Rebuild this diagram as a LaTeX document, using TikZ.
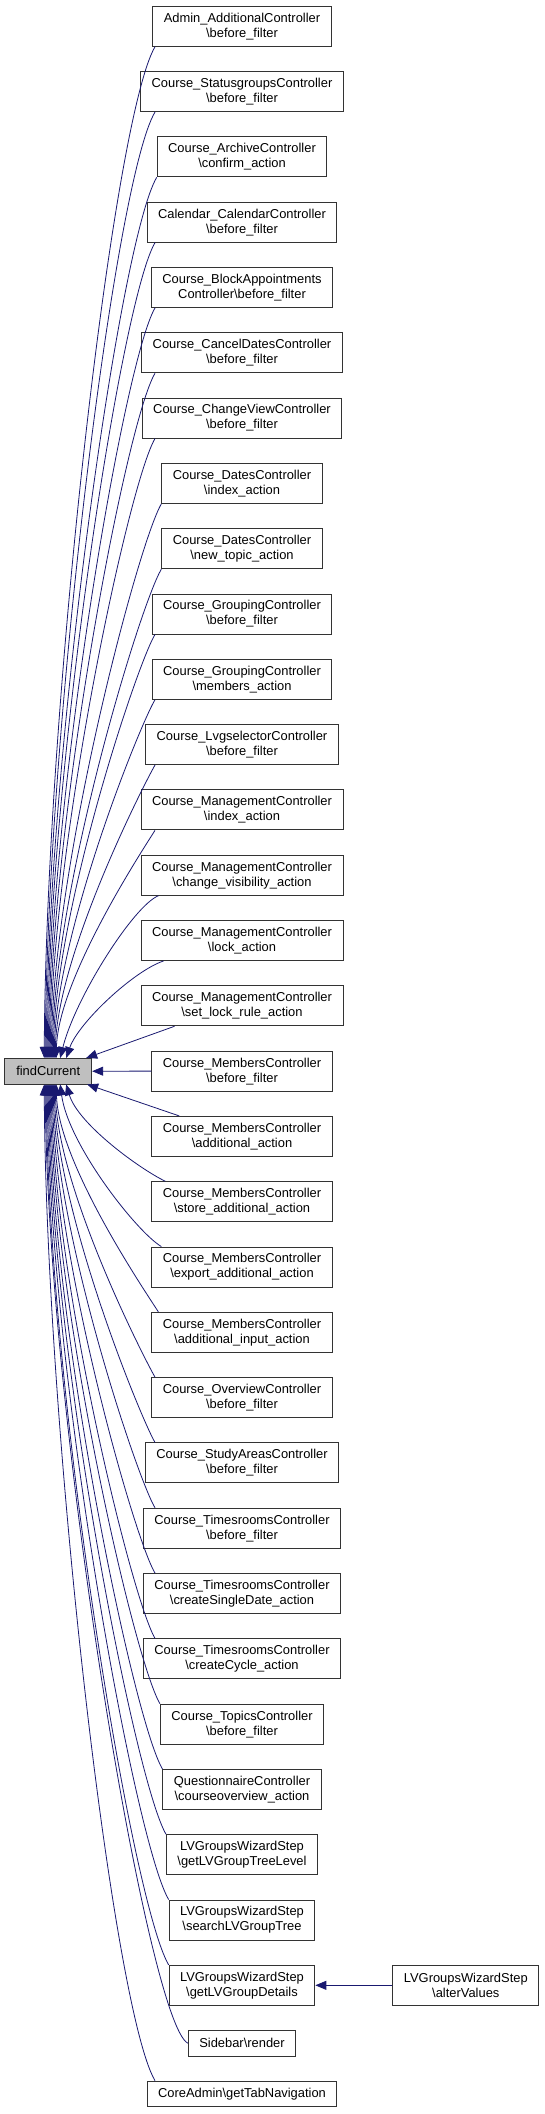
\documentclass[tikz,border=0pt]{standalone}
\usepackage{fontspec}
\setmainfont{Liberation Sans}
\usepackage{tikz}
\usetikzlibrary{arrows.meta}
\definecolor{edgeblue}{RGB}{25,25,112}
\definecolor{focusgray}{RGB}{191,191,191}
\newcommand{\bsl}{\textbackslash}

\begin{document}
\begin{tikzpicture}[x=1pt,y=-1pt,
    caller/.style={draw=black!80, line width=0.9pt, fill=white, align=center, inner xsep=11pt, inner ysep=2pt, minimum height=40pt, font=\fontsize{12.9}{15}\selectfont},
    oneline/.style={caller, minimum height=25.5pt},
    focus/.style={oneline, fill=focusgray, minimum width=87pt},
    call/.style={draw=edgeblue, line width=0.8pt, -{Triangle[length=11pt,width=9pt]}}]
    \useasboundingbox (0,0) rectangle (545,2114);

    \node[focus] (find) at (48.2,1071.2) {findCurrent};

    \node[caller] (c0) at (242,26.3) {Admin\_AdditionalController\\\bsl before\_filter};
    \node[caller] (c1) at (242,91.6) {Course\_StatusgroupsController\\\bsl before\_filter};
    \node[caller] (c2) at (242,156.9) {Course\_ArchiveController\\\bsl confirm\_action};
    \node[caller] (c3) at (242,222.2) {Calendar\_CalendarController\\\bsl before\_filter};
    \node[caller] (c4) at (242,287.5) {Course\_BlockAppointments\\Controller\bsl before\_filter};
    \node[caller] (c5) at (242,352.8) {Course\_CancelDatesController\\\bsl before\_filter};
    \node[caller] (c6) at (242,418.1) {Course\_ChangeViewController\\\bsl before\_filter};
    \node[caller] (c7) at (242,483.4) {Course\_DatesController\\\bsl index\_action};
    \node[caller] (c8) at (242,548.7) {Course\_DatesController\\\bsl new\_topic\_action};
    \node[caller] (c9) at (242,614.0) {Course\_GroupingController\\\bsl before\_filter};
    \node[caller] (c10) at (242,679.3) {Course\_GroupingController\\\bsl members\_action};
    \node[caller] (c11) at (242,744.6) {Course\_LvgselectorController\\\bsl before\_filter};
    \node[caller] (c12) at (242,809.9) {Course\_ManagementController\\\bsl index\_action};
    \node[caller] (c13) at (242,875.2) {Course\_ManagementController\\\bsl change\_visibility\_action};
    \node[caller] (c14) at (242,940.5) {Course\_ManagementController\\\bsl lock\_action};
    \node[caller] (c15) at (242,1005.8) {Course\_ManagementController\\\bsl set\_lock\_rule\_action};
    \node[caller] (c16) at (242,1071.1) {Course\_MembersController\\\bsl before\_filter};
    \node[caller] (c17) at (242,1136.4) {Course\_MembersController\\\bsl additional\_action};
    \node[caller] (c18) at (242,1201.7) {Course\_MembersController\\\bsl store\_additional\_action};
    \node[caller] (c19) at (242,1267.0) {Course\_MembersController\\\bsl export\_additional\_action};
    \node[caller] (c20) at (242,1332.3) {Course\_MembersController\\\bsl additional\_input\_action};
    \node[caller] (c21) at (242,1397.6) {Course\_OverviewController\\\bsl before\_filter};
    \node[caller] (c22) at (242,1462.9) {Course\_StudyAreasController\\\bsl before\_filter};
    \node[caller] (c23) at (242,1528.2) {Course\_TimesroomsController\\\bsl before\_filter};
    \node[caller] (c24) at (242,1593.5) {Course\_TimesroomsController\\\bsl createSingleDate\_action};
    \node[caller] (c25) at (242,1658.8) {Course\_TimesroomsController\\\bsl createCycle\_action};
    \node[caller] (c26) at (242,1724.1) {Course\_TopicsController\\\bsl before\_filter};
    \node[caller] (c27) at (242,1789.4) {QuestionnaireController\\\bsl courseoverview\_action};
    \node[caller] (c28) at (242,1854.7) {LVGroupsWizardStep\\\bsl getLVGroupTreeLevel};
    \node[caller] (c29) at (242,1920.0) {LVGroupsWizardStep\\\bsl searchLVGroupTree};
    \node[caller] (c30) at (242,1985.3) {LVGroupsWizardStep\\\bsl getLVGroupDetails};
    \node[oneline] (c31) at (242,2043.2) {Sidebar\bsl render};
    \node[oneline] (c32) at (242,2093.8) {CoreAdmin\bsl getTabNavigation};
    \node[caller] (alter) at (465.8,1985.3) {LVGroupsWizardStep\\\bsl alterValues};

    % callers above findCurrent
    \coordinate (rail) at (155,0);
    \draw[call] (c0.south -| rail) .. controls +(-42,72) and +(2,-354) .. ([xshift=-4pt]find.north);
    \draw[call] (c1.south -| rail) .. controls +(-40,67) and +(2,-331) .. ([xshift=-3pt]find.north);
    \draw[call] (c2.south west) .. controls +(-37,63) and +(2,-308) .. ([xshift=-2pt]find.north);
    \draw[call] (c3.south -| rail) .. controls +(-34,58) and +(2,-286) .. ([xshift=-1pt]find.north);
    \draw[call] (c4.south -| rail) .. controls +(-31,53) and +(2,-263) .. (find.north);
    \draw[call] (c5.south -| rail) .. controls +(-29,49) and +(2,-240) .. ([xshift=1pt]find.north);
    \draw[call] (c6.south -| rail) .. controls +(-26,44) and +(2,-217) .. ([xshift=2pt]find.north);
    \draw[call] (c7.south west) .. controls +(-23,39) and +(2,-194) .. ([xshift=3pt]find.north);
    \draw[call] (c8.south west) .. controls +(-21,35) and +(2,-171) .. ([xshift=4pt]find.north);
    \draw[call] (c9.south -| rail) .. controls +(-18,30) and +(2,-148) .. ([xshift=5pt]find.north);
    \draw[call] (c10.south -| rail) .. controls +(-15,25) and +(2,-126) .. ([xshift=6pt]find.north);
    \draw[call] (c11.south -| rail) .. controls +(-12,21) and +(2,-103) .. ([xshift=7pt]find.north);
    \draw[call] (c12.south -| rail) .. controls +(-10,16) and +(2,-80) .. ([xshift=8pt]find.north);
    \draw[call] ([xshift=18pt]c13.south west) .. controls +(-25,10) and +(15,-60) .. ([xshift=12pt]find.north);
    \draw[call] ([xshift=23pt]c14.south west) .. controls +(-30,10) and +(12,-35) .. ([xshift=18pt]find.north);
    \draw[call] ([xshift=34pt]c15.south west) -- ([xshift=-6pt]find.north east);
    \draw[call] (c16.west) -- (find.east);

    % callers below findCurrent
    \draw[call] ([xshift=28pt]c17.north west) -- ([xshift=-5pt]find.south east);
    \draw[call] ([xshift=14pt]c18.north west) .. controls +(-25,-12) and +(12,40) .. ([xshift=18pt]find.south);
    \draw[call] ([xshift=10pt]c19.north west) .. controls +(-25,-15) and +(8,60) .. ([xshift=12pt]find.south);
    \draw[call] ([xshift=7pt]c20.north west) .. controls +(-10,-16) and +(2,80) .. ([xshift=8pt]find.south);
    \draw[call] (c21.north -| rail) .. controls +(-12,-21) and +(2,103) .. ([xshift=7pt]find.south);
    \draw[call] (c22.north -| rail) .. controls +(-15,-26) and +(2,126) .. ([xshift=6pt]find.south);
    \draw[call] (c23.north -| rail) .. controls +(-18,-30) and +(2,148) .. ([xshift=5pt]find.south);
    \draw[call] (c24.north -| rail) .. controls +(-21,-35) and +(2,171) .. ([xshift=4pt]find.south);
    \draw[call] (c25.north -| rail) .. controls +(-23,-39) and +(2,194) .. ([xshift=3pt]find.south);
    \draw[call] (c26.north west) .. controls +(-26,-44) and +(2,217) .. ([xshift=2pt]find.south);
    \draw[call] (c27.north west) .. controls +(-29,-49) and +(2,240) .. ([xshift=1pt]find.south);
    \draw[call] (c28.north west) .. controls +(-31,-53) and +(2,263) .. (find.south);
    \draw[call] (c29.north west) .. controls +(-34,-58) and +(2,286) .. ([xshift=-1pt]find.south);
    \draw[call] (c30.north west) .. controls +(-37,-63) and +(2,308) .. ([xshift=-2pt]find.south);
    \draw[call] (c31.west) .. controls +(-40,-20) and +(2,336) .. ([xshift=-3pt]find.south);
    \draw[call] (c32.north -| rail) .. controls +(-42,-71) and +(2,349) .. ([xshift=-4pt]find.south);

    \draw[call] (alter.west) -- (c30.east);
\end{tikzpicture}
\end{document}
